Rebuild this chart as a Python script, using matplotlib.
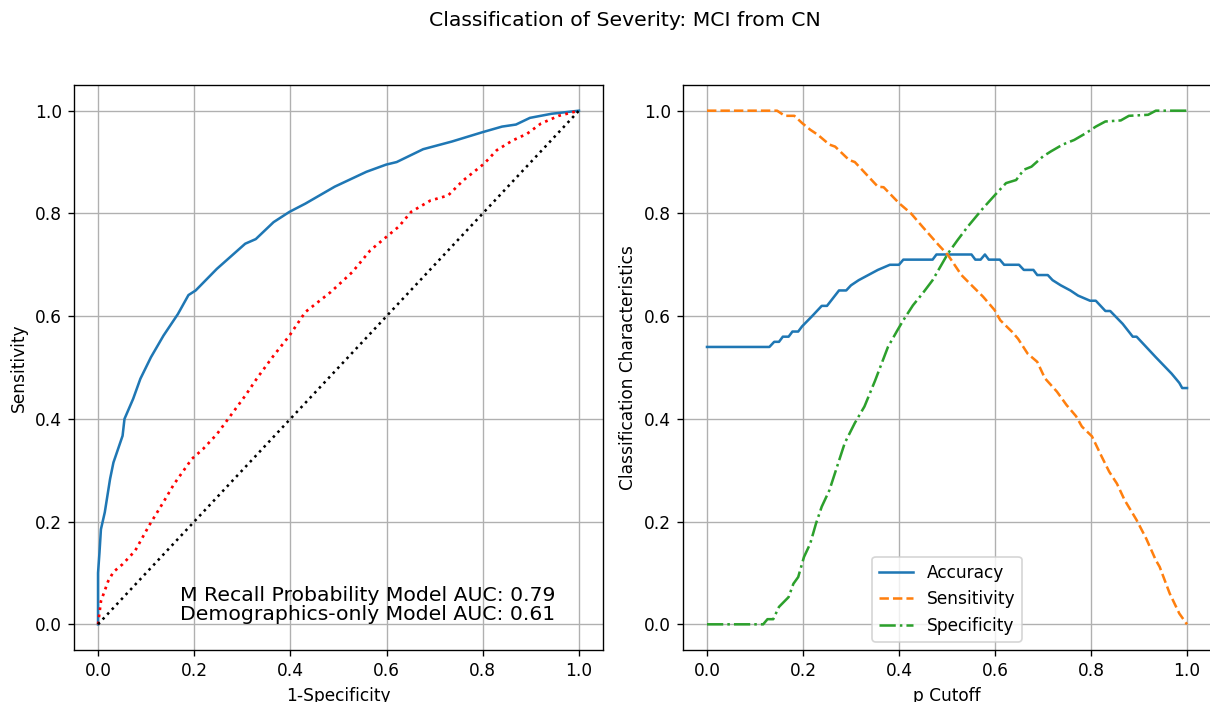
import matplotlib
matplotlib.use("Agg")
import matplotlib.pyplot as plt

# ROC curves
fpr_model = [0, 0.0, 0.003, 0.006, 0.014, 0.025, 0.032, 0.051, 0.055, 0.073, 0.088, 0.11,
             0.136, 0.166, 0.188, 0.203, 0.247, 0.306, 0.328, 0.365, 0.398, 0.431, 0.492,
             0.558, 0.599, 0.621, 0.676, 0.736, 0.799, 0.840, 0.869, 0.898, 0.943, 1.0]
tpr_model = [0, 0.10, 0.14, 0.185, 0.218, 0.283, 0.315, 0.367, 0.40, 0.439, 0.478, 0.52,
             0.562, 0.604, 0.641, 0.650, 0.692, 0.741, 0.750, 0.783, 0.803, 0.819, 0.852,
             0.881, 0.895, 0.900, 0.925, 0.940, 0.958, 0.969, 0.973, 0.986, 0.994, 1.0]

fpr_demo = [0, 0.006, 0.021, 0.032, 0.051, 0.077, 0.106, 0.136, 0.158, 0.195, 0.218, 0.247,
            0.273, 0.306, 0.332, 0.365, 0.398, 0.431, 0.484, 0.529, 0.566, 0.603, 0.625,
            0.651, 0.691, 0.728, 0.759, 0.803, 0.829, 0.862, 0.892, 0.921, 0.958, 1.0]
tpr_demo = [0, 0.045, 0.084, 0.102, 0.117, 0.143, 0.192, 0.238, 0.273, 0.322, 0.341, 0.370,
            0.403, 0.445, 0.481, 0.523, 0.562, 0.608, 0.647, 0.686, 0.728, 0.757, 0.774,
            0.803, 0.825, 0.835, 0.864, 0.897, 0.923, 0.942, 0.955, 0.975, 0.990, 1.0]

auc_model = 0.79
auc_demo = 0.61

# classification characteristics vs cutoff
acc_p = [0, 0.13, 0.14, 0.15, 0.158, 0.17, 0.178, 0.19, 0.198, 0.219, 0.239, 0.25, 0.275,
         0.29, 0.30, 0.316, 0.336, 0.356, 0.381, 0.40, 0.409, 0.47, 0.478, 0.551, 0.559,
         0.57, 0.579, 0.587, 0.61, 0.619, 0.65, 0.66, 0.68, 0.688, 0.71, 0.72, 0.737,
         0.757, 0.773, 0.798, 0.81, 0.83, 0.84, 0.866, 0.887, 0.895, 0.935, 0.968, 0.984,
         0.99, 1.0]
acc = [0.54, 0.54, 0.55, 0.55, 0.56, 0.56, 0.57, 0.57, 0.58, 0.60, 0.62, 0.62, 0.65,
       0.65, 0.66, 0.67, 0.68, 0.69, 0.70, 0.70, 0.71, 0.71, 0.72, 0.72, 0.71,
       0.71, 0.72, 0.71, 0.71, 0.70, 0.70, 0.69, 0.69, 0.68, 0.68, 0.67, 0.66,
       0.65, 0.64, 0.63, 0.63, 0.61, 0.61, 0.585, 0.56, 0.56, 0.52, 0.488, 0.47,
       0.46, 0.46]

sens_p = [0, 0.146, 0.162, 0.182, 0.198, 0.215, 0.231, 0.255, 0.267, 0.296, 0.308, 0.336,
          0.356, 0.368, 0.40, 0.425, 0.449, 0.482, 0.502, 0.53, 0.547, 0.575, 0.599,
          0.611, 0.636, 0.648, 0.668, 0.688, 0.704, 0.729, 0.749, 0.769, 0.781, 0.802,
          0.822, 0.838, 0.854, 0.870, 0.895, 0.915, 0.935, 0.943, 0.964, 0.984, 1.0]
sens = [1.0, 1.0, 0.99, 0.99, 0.976, 0.963, 0.953, 0.934, 0.93, 0.904, 0.90, 0.872,
        0.852, 0.851, 0.82, 0.80, 0.774, 0.739, 0.719, 0.68, 0.664, 0.638, 0.612,
        0.592, 0.569, 0.556, 0.527, 0.511, 0.479, 0.453, 0.427, 0.405, 0.385, 0.366,
        0.327, 0.297, 0.274, 0.242, 0.203, 0.167, 0.125, 0.112, 0.06, 0.021, 0.0]

spec_p = [0, 0.117, 0.126, 0.138, 0.150, 0.170, 0.180, 0.190, 0.202, 0.215, 0.227, 0.239,
          0.255, 0.271, 0.287, 0.308, 0.328, 0.350, 0.377, 0.397, 0.409, 0.429, 0.449,
          0.47, 0.486, 0.502, 0.522, 0.543, 0.575, 0.603, 0.623, 0.644, 0.66, 0.676,
          0.70, 0.717, 0.741, 0.765, 0.789, 0.81, 0.83, 0.862, 0.879, 0.919, 0.935, 1.0]
spec = [0.0, 0.0, 0.01, 0.01, 0.034, 0.053, 0.079, 0.092, 0.131, 0.157, 0.196, 0.229,
        0.261, 0.307, 0.353, 0.392, 0.424, 0.474, 0.54, 0.573, 0.592, 0.621, 0.644,
        0.67, 0.696, 0.722, 0.748, 0.774, 0.81, 0.839, 0.859, 0.865, 0.885, 0.891,
        0.911, 0.921, 0.934, 0.943, 0.956, 0.969, 0.979, 0.981, 0.99, 0.992, 1.0, 1.0]

DPI = 122
fig = plt.figure(figsize=(1210 / DPI, 702 / DPI), dpi=DPI)
ax1 = fig.add_axes([74 / 1210, 52 / 702, 529 / 1210, 565 / 702])
ax2 = fig.add_axes([683 / 1210, 52 / 702, 528 / 1210, 565 / 702])

ax1.plot(fpr_model, tpr_model, color="tab:blue")
ax1.plot(fpr_demo, tpr_demo, "r:", linewidth=1.6)
ax1.plot([0, 1], [0, 1], "k:", linewidth=1.5)
ax1.text(0.17, 0.0, f"M Recall Probability Model AUC: {auc_model:.2f}\n"
         f"Demographics-only Model AUC: {auc_demo:.2f}", fontsize=12, va="bottom",
         linespacing=1.0)
ax1.set_xlabel("1-Specificity")
ax1.set_ylabel("Sensitivity")
ax1.grid(True)

ax2.plot(acc_p, acc, label="Accuracy")
ax2.plot(sens_p, sens, "--", label="Sensitivity")
ax2.plot(spec_p, spec, "-.", label="Specificity")
ax2.set_xlabel("p Cutoff")
ax2.set_ylabel("Classification Characteristics")
ax2.grid(True)
ax2.legend(loc="lower center")

fig.suptitle("Classification of Severity: MCI from CN", x=625 / 1210, y=0.985)
fig.savefig("out.png", dpi=DPI)
